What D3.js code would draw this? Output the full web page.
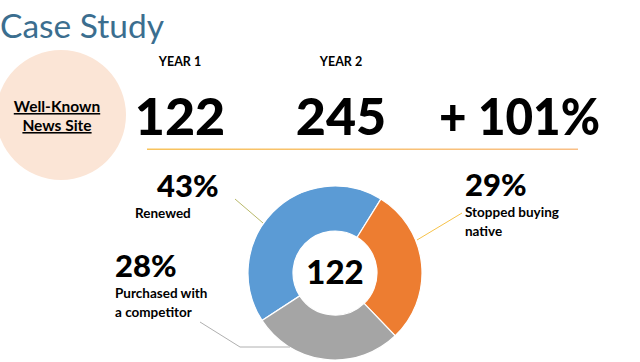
<!DOCTYPE html>
<html>
<head>
<meta charset="utf-8">
<script src="https://cdn.jsdelivr.net/npm/d3@7"></script>
<style>
  html, body { margin: 0; padding: 0; background: #fff; }
  svg { display: block; font-family: Lato, "Open Sans", sans-serif; }
</style>
</head>
<body>
<svg id="chart" width="640" height="362"></svg>
<script>
const title = 'Case Study';
const siteLines = ['Well-Known', 'News Site'];
const yearLabels = ['YEAR 1', 'YEAR 2'];
const yearValues = [122, 245];
const growthLabel = '+ 101%';
const centerValue = 122;

const segments = ['Renewed', 'Stopped buying native', 'Purchased with a competitor'];
const shares = [43, 29, 28];
const segColors = ['#5b9bd5', '#ed7d31', '#a5a5a5'];

const svg = d3.select('#chart');

// title
svg.append('text')
  .attr('x', 0).attr('y', 38)
  .attr('fill', '#3b6e8f')
  .attr('font-size', 33.5)
  .text(title);

// site bubble
svg.append('circle')
  .attr('cx', 61).attr('cy', 115).attr('r', 65)
  .attr('fill', '#fbe5d6');

svg.selectAll('text.site')
  .data(siteLines)
  .join('text')
  .attr('class', 'site')
  .attr('x', 57)
  .attr('y', (d, i) => 112 + i * 19)
  .attr('text-anchor', 'middle')
  .attr('font-size', 15.5)
  .attr('font-weight', 700)
  .attr('text-decoration', 'underline')
  .text(d => d);

// year headers + values
const xCol = d3.scalePoint().domain(yearLabels).range([180, 341]);

svg.selectAll('text.year')
  .data(yearLabels)
  .join('text')
  .attr('class', 'year')
  .attr('x', d => xCol(d))
  .attr('y', 66)
  .attr('text-anchor', 'middle')
  .attr('font-size', 12.5)
  .attr('font-weight', 700)
  .text(d => d);

svg.selectAll('text.big')
  .data(yearValues)
  .join('text')
  .attr('class', 'big')
  .attr('x', (d, i) => xCol(yearLabels[i]))
  .attr('y', 135)
  .attr('text-anchor', 'middle')
  .attr('font-size', 52)
  .attr('font-weight', 900)
  .text(d => d);

svg.append('text')
  .attr('x', 439).attr('y', 135)
  .attr('font-size', 52)
  .attr('font-weight', 900)
  .attr('textLength', 161)
  .attr('lengthAdjust', 'spacingAndGlyphs')
  .text(growthLabel);

// divider
const grad = svg.append('defs').append('linearGradient').attr('id', 'rule');
grad.append('stop').attr('offset', '0%').attr('stop-color', '#f8c35c');
grad.append('stop').attr('offset', '100%').attr('stop-color', '#f9bf86');
svg.append('rect')
  .attr('x', 147).attr('y', 148.5).attr('width', 431).attr('height', 1.5)
  .attr('fill', 'url(#rule)');

// donut
const cx = 335, cy = 273, rOut = 87, rIn = 42;
const pie = d3.pie().sort(null)
  .startAngle(-123 * Math.PI / 180)
  .endAngle((360 - 123) * Math.PI / 180);
const arcs = pie(shares);
const arc = d3.arc().innerRadius(rIn).outerRadius(rOut);

const g = svg.append('g').attr('transform', `translate(${cx},${cy})`);
g.selectAll('path')
  .data(arcs)
  .join('path')
  .attr('d', arc)
  .attr('fill', (d, i) => segColors[i])
  .attr('stroke', '#fff')
  .attr('stroke-width', 1.2);

g.append('text')
  .attr('y', 11)
  .attr('text-anchor', 'middle')
  .attr('font-size', 33)
  .attr('font-weight', 900)
  .text(centerValue);

// leader lines
const leaders = [
  [[235, 199], [263, 223]],
  [[462, 213], [417, 240]],
  [[200, 322], [240, 347], [290, 347]]
];
const leaderColors = ['#b8b86a', '#f7c34a', '#b0b0b0'];
svg.selectAll('path.leader')
  .data(leaders)
  .join('path')
  .attr('class', 'leader')
  .attr('d', d3.line())
  .attr('fill', 'none')
  .attr('stroke', (d, i) => leaderColors[i])
  .attr('stroke-width', 1);

// labels
const labelPos = [
  { x: 157, y: 197, sx: 135, lines: ['Renewed'] },
  { x: 465, y: 196, sx: 465, lines: ['Stopped buying', 'native'] },
  { x: 115, y: 277, sx: 115, lines: ['Purchased with', 'a competitor'] }
];

const lab = svg.selectAll('g.lab')
  .data(arcs)
  .join('g')
  .attr('class', 'lab');

lab.append('text')
  .attr('x', (d, i) => labelPos[i].x)
  .attr('y', (d, i) => labelPos[i].y)
  .attr('font-size', 31)
  .attr('font-weight', 900)
  .text(d => d.data + '%');

lab.each(function (d, i) {
  d3.select(this).selectAll('text.sub')
    .data(labelPos[i].lines)
    .join('text')
    .attr('class', 'sub')
    .attr('x', labelPos[i].sx)
    .attr('y', (t, j) => labelPos[i].y + 21 + j * 19)
    .attr('font-size', 13.5)
    .attr('font-weight', 700)
    .text(t => t);
});
</script>
</body>
</html>
